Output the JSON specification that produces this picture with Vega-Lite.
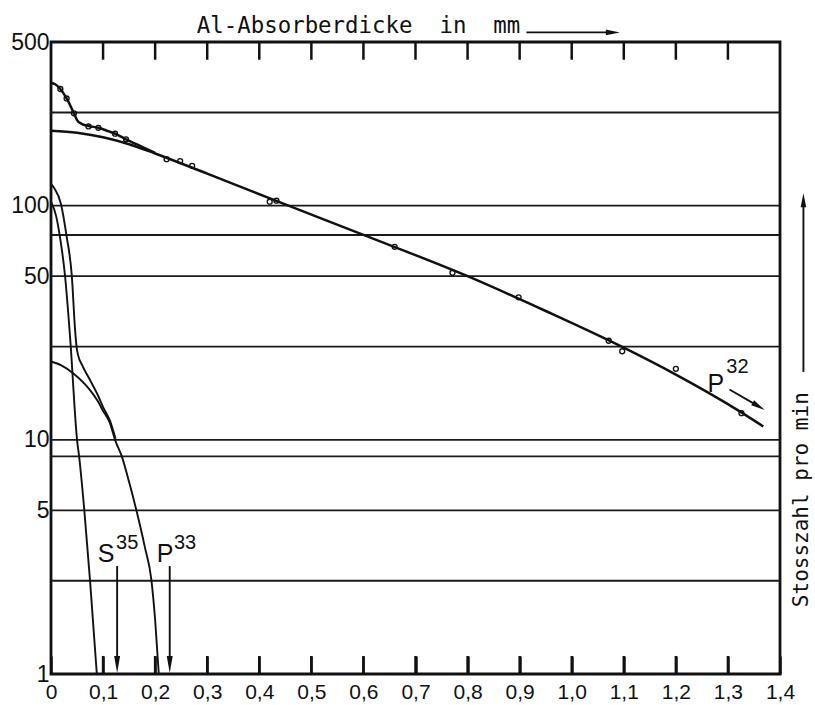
{
  "$schema": "https://vega.github.io/schema/vega-lite/v6.json",
  "width": 729,
  "height": 632,
  "autosize": {"type": "none"},
  "padding": {"left": 51, "top": 42, "right": 35, "bottom": 31},
  "background": "white",
  "config": {
    "view": {"stroke": "#111", "strokeWidth": 2.8},
    "font": "Liberation Sans",
    "axis": {"grid": false, "domain": false, "labelColor": "#111", "tickColor": "#111"}
  },
  "datasets": {
    "grid": [{"y": 250}, {"y": 100}, {"y": 75}, {"y": 50}, {"y": 25}, {"y": 10}, {"y": 8.5}, {"y": 5}, {"y": 2.5}],
    "xticks": [
      {"t": "t1", "x": 0.1, "y": 500}, {"t": "t1", "x": 0.1, "y": 420}, {"t": "t2", "x": 0.2, "y": 500}, {"t": "t2", "x": 0.2, "y": 420},
      {"t": "t3", "x": 0.3, "y": 500}, {"t": "t3", "x": 0.3, "y": 420}, {"t": "t4", "x": 0.4, "y": 500}, {"t": "t4", "x": 0.4, "y": 420},
      {"t": "t5", "x": 0.5, "y": 500}, {"t": "t5", "x": 0.5, "y": 420}, {"t": "t6", "x": 0.6, "y": 500}, {"t": "t6", "x": 0.6, "y": 420},
      {"t": "t7", "x": 0.7, "y": 500}, {"t": "t7", "x": 0.7, "y": 420}, {"t": "t8", "x": 0.8, "y": 500}, {"t": "t8", "x": 0.8, "y": 420},
      {"t": "t9", "x": 0.9, "y": 500}, {"t": "t9", "x": 0.9, "y": 420}, {"t": "t10", "x": 1.0, "y": 500}, {"t": "t10", "x": 1.0, "y": 420},
      {"t": "t11", "x": 1.1, "y": 500}, {"t": "t11", "x": 1.1, "y": 420}, {"t": "t12", "x": 1.2, "y": 500}, {"t": "t12", "x": 1.2, "y": 420},
      {"t": "t13", "x": 1.3, "y": 500}, {"t": "t13", "x": 1.3, "y": 420},
      {"t": "b1", "x": 0.1, "y": 1}, {"t": "b1", "x": 0.1, "y": 1.194}, {"t": "b2", "x": 0.2, "y": 1}, {"t": "b2", "x": 0.2, "y": 1.194},
      {"t": "b3", "x": 0.3, "y": 1}, {"t": "b3", "x": 0.3, "y": 1.194}, {"t": "b4", "x": 0.4, "y": 1}, {"t": "b4", "x": 0.4, "y": 1.194},
      {"t": "b5", "x": 0.5, "y": 1}, {"t": "b5", "x": 0.5, "y": 1.194}, {"t": "b6", "x": 0.6, "y": 1}, {"t": "b6", "x": 0.6, "y": 1.194},
      {"t": "b7", "x": 0.7, "y": 1}, {"t": "b7", "x": 0.7, "y": 1.194}, {"t": "b8", "x": 0.8, "y": 1}, {"t": "b8", "x": 0.8, "y": 1.194},
      {"t": "b9", "x": 0.9, "y": 1}, {"t": "b9", "x": 0.9, "y": 1.194}, {"t": "b10", "x": 1.0, "y": 1}, {"t": "b10", "x": 1.0, "y": 1.194},
      {"t": "b11", "x": 1.1, "y": 1}, {"t": "b11", "x": 1.1, "y": 1.194}, {"t": "b12", "x": 1.2, "y": 1}, {"t": "b12", "x": 1.2, "y": 1.194},
      {"t": "b13", "x": 1.3, "y": 1}, {"t": "b13", "x": 1.3, "y": 1.194}
    ],
    "curves": [
      {"s": "fit", "x": 0, "y": 209}, {"s": "fit", "x": 0.05, "y": 205}, {"s": "fit", "x": 0.1, "y": 196}, {"s": "fit", "x": 0.15, "y": 183}, {"s": "fit", "x": 0.2, "y": 167}, {"s": "fit", "x": 0.3, "y": 137}, {"s": "fit", "x": 0.456, "y": 100}, {"s": "fit", "x": 0.6, "y": 75}, {"s": "fit", "x": 0.8, "y": 50}, {"s": "fit", "x": 0.95, "y": 35.5}, {"s": "fit", "x": 1.096, "y": 25}, {"s": "fit", "x": 1.2, "y": 19}, {"s": "fit", "x": 1.3, "y": 14.2}, {"s": "fit", "x": 1.368, "y": 11.4},
      {"s": "sum", "x": 0, "y": 335}, {"s": "sum", "x": 0.008, "y": 330}, {"s": "sum", "x": 0.018, "y": 315}, {"s": "sum", "x": 0.03, "y": 287}, {"s": "sum", "x": 0.044, "y": 248}, {"s": "sum", "x": 0.05, "y": 232}, {"s": "sum", "x": 0.058, "y": 224}, {"s": "sum", "x": 0.072, "y": 219}, {"s": "sum", "x": 0.091, "y": 215}, {"s": "sum", "x": 0.11, "y": 208}, {"s": "sum", "x": 0.125, "y": 202}, {"s": "sum", "x": 0.144, "y": 192}, {"s": "sum", "x": 0.176, "y": 178}, {"s": "sum", "x": 0.2, "y": 168}
    ],
    "lower": [
      {"s": "sum2", "x": 0, "y": 124}, {"s": "sum2", "x": 0.006, "y": 119}, {"s": "sum2", "x": 0.019, "y": 102}, {"s": "sum2", "x": 0.03, "y": 74}, {"s": "sum2", "x": 0.04, "y": 50}, {"s": "sum2", "x": 0.046, "y": 30}, {"s": "sum2", "x": 0.049, "y": 25}, {"s": "sum2", "x": 0.052, "y": 23}, {"s": "sum2", "x": 0.06, "y": 20.8}, {"s": "sum2", "x": 0.075, "y": 18.0}, {"s": "sum2", "x": 0.09, "y": 15.5}, {"s": "sum2", "x": 0.1, "y": 13.8}, {"s": "sum2", "x": 0.113, "y": 12.1}, {"s": "sum2", "x": 0.124, "y": 10.1},
      {"s": "s35", "x": 0, "y": 104}, {"s": "s35", "x": 0.01, "y": 90}, {"s": "s35", "x": 0.017, "y": 74}, {"s": "s35", "x": 0.027, "y": 50}, {"s": "s35", "x": 0.033, "y": 35}, {"s": "s35", "x": 0.038, "y": 25}, {"s": "s35", "x": 0.042, "y": 18}, {"s": "s35", "x": 0.046, "y": 13}, {"s": "s35", "x": 0.05, "y": 10}, {"s": "s35", "x": 0.054, "y": 8.5}, {"s": "s35", "x": 0.064, "y": 5}, {"s": "s35", "x": 0.075, "y": 2.5}, {"s": "s35", "x": 0.088, "y": 1},
      {"s": "p33", "x": 0, "y": 21.6}, {"s": "p33", "x": 0.02, "y": 20.8}, {"s": "p33", "x": 0.043, "y": 19.2}, {"s": "p33", "x": 0.075, "y": 16.3}, {"s": "p33", "x": 0.09, "y": 14.6}, {"s": "p33", "x": 0.1, "y": 13.3}, {"s": "p33", "x": 0.113, "y": 11.8}, {"s": "p33", "x": 0.123, "y": 10}, {"s": "p33", "x": 0.136, "y": 8.5}, {"s": "p33", "x": 0.15, "y": 6.6}, {"s": "p33", "x": 0.164, "y": 5.0}, {"s": "p33", "x": 0.18, "y": 3.5}, {"s": "p33", "x": 0.193, "y": 2.5}, {"s": "p33", "x": 0.2, "y": 1.7}, {"s": "p33", "x": 0.207, "y": 1}
    ],
    "points": [
      {"x": 0.018, "y": 315}, {"x": 0.03, "y": 287}, {"x": 0.044, "y": 248}, {"x": 0.072, "y": 218}, {"x": 0.091, "y": 215}, {"x": 0.123, "y": 203}, {"x": 0.144, "y": 192}, {"x": 0.222, "y": 158}, {"x": 0.248, "y": 155}, {"x": 0.271, "y": 148}, {"x": 0.42, "y": 104}, {"x": 0.433, "y": 105}, {"x": 0.66, "y": 66.7}, {"x": 0.771, "y": 51.7}, {"x": 0.898, "y": 40.6}, {"x": 1.071, "y": 26.5}, {"x": 1.097, "y": 23.9}, {"x": 1.2, "y": 20.1}, {"x": 1.326, "y": 13.0}
    ],
    "arrowlines": [
      {"a": "s35", "x": 0.127, "y": 2.89}, {"a": "s35", "x": 0.127, "y": 1.12},
      {"a": "p33", "x": 0.228, "y": 2.89}, {"a": "p33", "x": 0.228, "y": 1.12},
      {"a": "p32", "x": 1.303, "y": 16.4}, {"a": "p32", "x": 1.359, "y": 13.9},
      {"a": "top", "x": 0.913, "y": 549.6}, {"a": "top", "x": 1.079, "y": 549.6},
      {"a": "right", "x": 1.445, "y": 19.5}, {"a": "right", "x": 1.445, "y": 106}
    ],
    "heads": [
      {"k": "down", "x": 0.127, "y": 1.098}, {"k": "down", "x": 0.228, "y": 1.098},
      {"k": "right", "x": 1.079, "y": 549.6},
      {"k": "diag", "x": 1.359, "y": 13.9},
      {"k": "up", "x": 1.445, "y": 105.6}
    ],
    "labels": [
      {"k": "big", "t": "S", "x": 0.09, "y": 3.01}, {"k": "big", "t": "P", "x": 0.203, "y": 3.01}, {"k": "big", "t": "P", "x": 1.261, "y": 16.05},
      {"k": "small", "t": "35", "x": 0.125, "y": 3.42}, {"k": "small", "t": "33", "x": 0.236, "y": 3.42}, {"k": "small", "t": "32", "x": 1.297, "y": 19.3},
      {"k": "title", "t": "Al-Absorberdicke\u00a0\u00a0in\u00a0\u00a0mm", "x": 0.28, "y": 545.8},
      {"k": "side", "t": "Stosszahl pro min", "x": 1.453, "y": 1.93}
    ]
  },
  "layer": [
    {
      "data": {"name": "grid"},
      "mark": {"type": "rule", "strokeWidth": 1.9, "color": "#1a1a1a"},
      "encoding": {
        "y": {"field": "y", "type": "quantitative", "scale": {"type": "log", "domain": [1, 500], "nice": false},
          "axis": {"values": [1, 5, 10, 50, 100, 500], "format": "d", "ticks": false, "labelFontSize": 23, "labelPadding": 2, "title": null}}
      }
    },
    {
      "data": {"name": "curves"},
      "mark": {"type": "line", "strokeWidth": 2.5, "color": "#111", "interpolate": "monotone"},
      "encoding": {
        "x": {"field": "x", "type": "quantitative", "scale": {"domain": [0, 1.4], "nice": false, "zero": false},
          "axis": {"orient": "bottom", "values": [0, 0.1, 0.2, 0.3, 0.4, 0.5, 0.6, 0.7, 0.8, 0.9, 1.0, 1.1, 1.2, 1.3, 1.4],
            "labelExpr": "datum.value == 0 ? '0' : replace(format(datum.value, '.1f'), '.', ',')",
            "tickSize": -18, "tickWidth": 2.5, "labelFontSize": 21, "labelPadding": 25, "labelFlush": false, "title": null}},
        "y": {"field": "y", "type": "quantitative", "axis": null},
        "detail": {"field": "s"}
      }
    },
    {
      "data": {"name": "xticks"},
      "mark": {"type": "line", "strokeWidth": 2.5, "color": "#111"},
      "encoding": {
        "x": {"field": "x", "type": "quantitative", "axis": null},
        "y": {"field": "y", "type": "quantitative", "axis": null},
        "detail": {"field": "t"}
      }
    },
    {
      "data": {"name": "lower"},
      "mark": {"type": "line", "strokeWidth": 1.9, "color": "#111", "interpolate": "monotone"},
      "encoding": {
        "x": {"field": "x", "type": "quantitative", "axis": null},
        "y": {"field": "y", "type": "quantitative", "axis": null},
        "detail": {"field": "s"}
      }
    },
    {
      "data": {"name": "points"},
      "mark": {"type": "point", "filled": false, "size": 24, "strokeWidth": 1.4, "color": "#111", "opacity": 1},
      "encoding": {
        "x": {"field": "x", "type": "quantitative", "axis": null},
        "y": {"field": "y", "type": "quantitative", "axis": null}
      }
    },
    {
      "data": {"name": "arrowlines"},
      "mark": {"type": "line", "strokeWidth": 1.9, "color": "#111"},
      "encoding": {
        "x": {"field": "x", "type": "quantitative", "axis": null},
        "y": {"field": "y", "type": "quantitative", "axis": null},
        "detail": {"field": "a"}
      }
    },
    {
      "data": {"name": "heads"},
      "transform": [{"filter": "datum.k == 'down'"}],
      "mark": {"type": "point", "shape": "M-1,-0.35L1,0L-1,0.35Z", "angle": 90, "size": 289, "filled": true, "color": "#111", "opacity": 1},
      "encoding": {"x": {"field": "x", "type": "quantitative", "axis": null}, "y": {"field": "y", "type": "quantitative", "axis": null}}
    },
    {
      "data": {"name": "heads"},
      "transform": [{"filter": "datum.k == 'right'"}],
      "mark": {"type": "point", "shape": "M-1,-0.4L1,0L-1,0.4Z", "angle": 0, "size": 196, "filled": true, "color": "#111", "opacity": 1},
      "encoding": {"x": {"field": "x", "type": "quantitative", "axis": null}, "y": {"field": "y", "type": "quantitative", "axis": null}}
    },
    {
      "data": {"name": "heads"},
      "transform": [{"filter": "datum.k == 'diag'"}],
      "mark": {"type": "point", "shape": "M-1,-0.4L1,0L-1,0.4Z", "angle": 30.6, "size": 196, "filled": true, "color": "#111", "opacity": 1},
      "encoding": {"x": {"field": "x", "type": "quantitative", "axis": null}, "y": {"field": "y", "type": "quantitative", "axis": null}}
    },
    {
      "data": {"name": "heads"},
      "transform": [{"filter": "datum.k == 'up'"}],
      "mark": {"type": "point", "shape": "M-1,-0.4L1,0L-1,0.4Z", "angle": 270, "size": 196, "filled": true, "color": "#111", "opacity": 1},
      "encoding": {"x": {"field": "x", "type": "quantitative", "axis": null}, "y": {"field": "y", "type": "quantitative", "axis": null}}
    },
    {
      "data": {"name": "labels"},
      "transform": [{"filter": "datum.k == 'big'"}],
      "mark": {"type": "text", "align": "left", "baseline": "alphabetic", "fontSize": 25, "color": "#111", "font": "Liberation Sans"},
      "encoding": {"x": {"field": "x", "type": "quantitative", "axis": null}, "y": {"field": "y", "type": "quantitative", "axis": null}, "text": {"field": "t"}}
    },
    {
      "data": {"name": "labels"},
      "transform": [{"filter": "datum.k == 'small'"}],
      "mark": {"type": "text", "align": "left", "baseline": "alphabetic", "fontSize": 20, "color": "#111", "font": "Liberation Sans"},
      "encoding": {"x": {"field": "x", "type": "quantitative", "axis": null}, "y": {"field": "y", "type": "quantitative", "axis": null}, "text": {"field": "t"}}
    },
    {
      "data": {"name": "labels"},
      "transform": [{"filter": "datum.k == 'title'"}],
      "mark": {"type": "text", "align": "left", "baseline": "alphabetic", "fontSize": 22.4, "color": "#111", "font": "DejaVu Sans Mono"},
      "encoding": {"x": {"field": "x", "type": "quantitative", "axis": null}, "y": {"field": "y", "type": "quantitative", "axis": null}, "text": {"field": "t"}}
    },
    {
      "data": {"name": "labels"},
      "transform": [{"filter": "datum.k == 'side'"}],
      "mark": {"type": "text", "align": "left", "baseline": "alphabetic", "angle": 270, "fontSize": 21, "color": "#111", "font": "DejaVu Sans Mono"},
      "encoding": {"x": {"field": "x", "type": "quantitative", "axis": null}, "y": {"field": "y", "type": "quantitative", "axis": null}, "text": {"field": "t"}}
    }
  ],
  "resolve": {"axis": {"x": "independent", "y": "independent"}}
}
